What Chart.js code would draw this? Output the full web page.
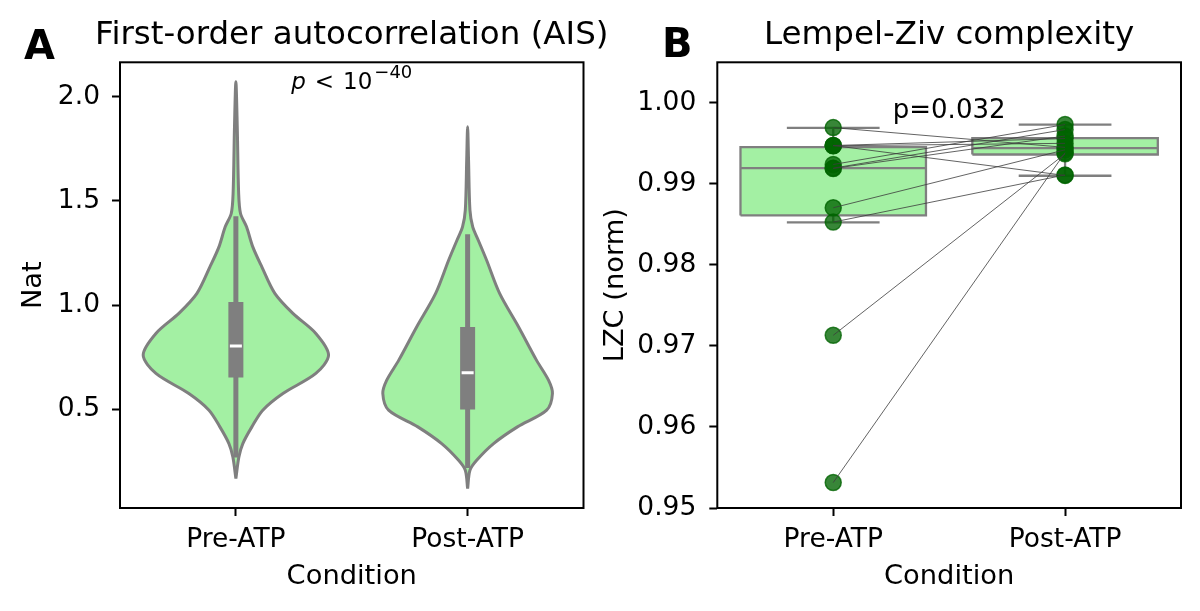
<!DOCTYPE html>
<html>
<head>
<meta charset="utf-8">
<script src="https://cdn.jsdelivr.net/npm/chart.js@4.4.1/dist/chart.umd.min.js"></script>
<style>
  html, body { margin: 0; padding: 0; background: #fff; }
  #wrap { position: relative; width: 1200px; height: 611px; overflow: hidden; }
  canvas { position: absolute; top: 0; }
  #aisChart { left: 0; }
  #lzcChart { left: 600px; }
</style>
</head>
<body>
<div id="wrap">
  <canvas id="aisChart" width="704" height="611"></canvas>
  <canvas id="lzcChart" width="600" height="611"></canvas>
</div>
<script>
// --- data ---
const categories = ["Pre-ATP", "Post-ATP"];

// A: violin outlines (Nat level, half width in category units)
const preLevels  = [0.169, 0.273, 0.337, 0.417, 0.497, 0.577, 0.673, 0.761, 0.865, 0.961, 1.057, 1.184, 1.280, 1.376, 1.440, 1.536, 1.856, 2.072];
const preHalf    = [0,     0.013, 0.030, 0.069, 0.116, 0.203, 0.345, 0.400, 0.345, 0.246, 0.168, 0.112, 0.073, 0.046, 0.020, 0.012, 0.006, 0];
const postLevels = [0.121, 0.209, 0.257, 0.337, 0.417, 0.497, 0.577, 0.641, 0.737, 0.896, 1.057, 1.216, 1.312, 1.376, 1.456, 1.696, 1.856];
const postHalf   = [0,     0.010, 0.039, 0.112, 0.215, 0.341, 0.366, 0.349, 0.297, 0.220, 0.138, 0.082, 0.046, 0.022, 0.010, 0.004, 0];
// inner box per condition
const aisWhiskLow  = [0.27, 0.22];
const aisQ1        = [0.654, 0.500];
const aisMedian    = [0.805, 0.676];
const aisQ3        = [1.016, 0.896];
const aisWhiskHigh = [1.427, 1.340];
const aisTicks = [0.5, 1.0, 1.5, 2.0];

// B: paired LZC values per subject
const lzcPre  = [0.99694, 0.99473, 0.99473, 0.99470, 0.99239, 0.99194, 0.99190, 0.98705, 0.98528, 0.97131, 0.95314];
const lzcPost = [0.99450, 0.99104, 0.99560, 0.99500, 0.99732, 0.99670, 0.99590, 0.99420, 0.99110, 0.99370, 0.99385];
const lzcWhiskLow  = [0.98524, 0.99100];
const lzcQ1        = [0.98610, 0.99362];
const lzcMedian    = [0.99194, 0.99440];
const lzcQ3        = [0.99453, 0.99564];
const lzcWhiskHigh = [0.99692, 0.99732];
const lzcTicks = [0.95, 0.96, 0.97, 0.98, 0.99, 1.00];

// --- styles ---
const FONT = "'DejaVu Sans', sans-serif";
const fillGreen = "#a3f0a3";
const edgeGrey = "#7f7f7f";
Chart.defaults.font.family = FONT;
Chart.defaults.color = "#000";
Chart.defaults.animation = false;

function violinOutline(c, levels, half) {
  const right = levels.map((y, i) => ({ x: c + half[i], y }));
  const left = levels.map((y, i) => ({ x: c - half[i], y })).reverse();
  return right.concat(left.slice(1));
}

function seg(x1, y1, x2, y2, color, width, order) {
  return { data: [{ x: x1, y: y1 }, { x: x2, y: y2 }], showLine: true, borderColor: color,
           borderWidth: width, pointRadius: 0, fill: false, order };
}

function catAxis(height) {
  return {
    type: "linear", min: -0.5, max: 1.5,
    afterBuildTicks: s => { s.ticks = categories.map((c, i) => ({ value: i })); },
    afterFit: s => { s.height = height; },
    ticks: { callback: v => categories[v], font: { size: 26.5 }, color: "#000", padding: 8.1, maxRotation: 0, autoSkip: false },
    grid: { drawOnChartArea: false, drawTicks: true, tickLength: 8, tickWidth: 2, tickColor: "#000" },
    border: { display: false },
    title: { display: true, text: "Condition", font: { size: 27.3 }, color: "#000", padding: { top: 0, bottom: 18 } }
  };
}

function valAxis(min, max, ticks, digits, width, label, tpad, lpad) {
  return {
    min, max,
    afterBuildTicks: s => { s.ticks = ticks.map(v => ({ value: v })); },
    afterFit: s => { s.width = width; },
    ticks: { callback: v => v.toFixed(digits), font: { size: 26.5 }, color: "#000", padding: lpad },
    grid: { drawOnChartArea: false, drawTicks: true, tickLength: 8, tickWidth: 2, tickColor: "#000" },
    border: { display: false },
    title: { display: true, text: label, font: { size: 27.3 }, color: "#000", padding: { top: tpad, bottom: 0 } }
  };
}

function titleOpts(text, full) {
  return { display: true, text, fullSize: full, font: { size: 32.5, weight: "normal" }, color: "#000",
           padding: { top: 16, bottom: 7.3 } };
}

function frame(chart) {
  const { ctx, chartArea: a } = chart;
  ctx.save();
  ctx.strokeStyle = "#000";
  ctx.lineWidth = 2;
  ctx.strokeRect(a.left, a.top, a.right - a.left, a.bottom - a.top);
  ctx.restore();
}

function letter(ctx, t, x, y) {
  ctx.save();
  ctx.fillStyle = "#000";
  ctx.font = "bold 40px " + FONT;
  ctx.textAlign = "left";
  ctx.textBaseline = "alphabetic";
  ctx.fillText(t, x, y);
  ctx.restore();
}

// --- panel A: violins ---
const aisSets = [];
categories.forEach((c, i) => {
  aisSets.push({ data: [{ x: i, y: aisMedian[i] }], pointStyle: "line", pointRadius: 6,
                 borderColor: "#fff", borderWidth: 3, showLine: false, order: 0 });
  aisSets.push(seg(i, aisQ1[i], i, aisQ3[i], edgeGrey, 15, 1));
  aisSets.push(seg(i, aisWhiskLow[i], i, aisWhiskHigh[i], edgeGrey, 5, 2));
});
aisSets.push({ data: violinOutline(0, preLevels, preHalf), showLine: true, fill: "shape",
               backgroundColor: fillGreen, borderColor: edgeGrey, borderWidth: 3, pointRadius: 0, tension: 0.3, order: 3 });
aisSets.push({ data: violinOutline(1, postLevels, postHalf), showLine: true, fill: "shape",
               backgroundColor: fillGreen, borderColor: edgeGrey, borderWidth: 3, pointRadius: 0, tension: 0.3, order: 3 });

new Chart(document.getElementById("aisChart"), {
  type: "scatter",
  data: { datasets: aisSets },
  options: {
    responsive: false,
    layout: { padding: { left: 0, right: 0.5, top: 0, bottom: 0 } },
    plugins: { legend: { display: false }, tooltip: { enabled: false }, title: titleOpts("First-order autocorrelation (AIS)", true) },
    scales: {
      x: catAxis(103),
      y: valAxis(0.028, 2.165, aisTicks, 1, 120, "Nat", 17.6, 12),
      // empty spacer on the right so the title centres over the plot
      y2: { position: "right", min: 0, max: 1, afterFit: s => { s.width = 120; },
            ticks: { display: false }, grid: { display: false }, border: { display: false } }
    }
  },
  plugins: [{
    id: "aisNotes",
    afterDraw(chart) {
      frame(chart);
      const { ctx, chartArea: a } = chart;
      letter(ctx, "A", 24, 59);
      // p < 10^-40, mathtext style
      const parts = [
        { t: "p", f: "italic 23px " + FONT, dy: 0, gap: 9 },
        { t: "<", f: "23px " + FONT, dy: 0, gap: 9 },
        { t: "10", f: "23px " + FONT, dy: 0, gap: 2 },
        { t: "\u221240", f: "18px " + FONT, dy: -11, gap: 0 }
      ];
      ctx.save();
      ctx.fillStyle = "#000";
      ctx.textBaseline = "alphabetic";
      let total = 0;
      parts.forEach(p => { ctx.font = p.f; p.w = ctx.measureText(p.t).width; total += p.w + p.gap; });
      let x = (a.left + a.right) / 2 - total / 2;
      parts.forEach(p => { ctx.font = p.f; ctx.fillText(p.t, x, 89 + p.dy); x += p.w + p.gap; });
      ctx.restore();
    }
  }]
});

// --- panel B: boxes + paired points ---
const lzcSets = [];
lzcPre.forEach((v, i) => lzcSets.push(seg(0, v, 1, lzcPost[i], "rgba(60,60,60,0.8)", 1, 0)));
lzcSets.push({
  data: lzcPre.map(v => ({ x: 0, y: v })).concat(lzcPost.map(v => ({ x: 1, y: v }))),
  showLine: false, pointRadius: 8, backgroundColor: "rgba(0,100,0,0.78)",
  borderColor: "rgba(0,100,0,0.78)", borderWidth: 1.5, order: 1
});
const half = 0.4;
categories.forEach((c, i) => {
  lzcSets.push(seg(i, lzcWhiskLow[i], i, lzcQ1[i], edgeGrey, 2.3, 2));
  lzcSets.push(seg(i, lzcQ3[i], i, lzcWhiskHigh[i], edgeGrey, 2.3, 2));
  lzcSets.push(seg(i - half / 2, lzcWhiskLow[i], i + half / 2, lzcWhiskLow[i], edgeGrey, 2.3, 2));
  lzcSets.push(seg(i - half / 2, lzcWhiskHigh[i], i + half / 2, lzcWhiskHigh[i], edgeGrey, 2.3, 2));
  lzcSets.push(seg(i - half, lzcMedian[i], i + half, lzcMedian[i], edgeGrey, 2.3, 2));
  lzcSets.push({
    data: [{ x: i - half, y: lzcQ1[i] }, { x: i + half, y: lzcQ1[i] }, { x: i + half, y: lzcQ3[i] },
           { x: i - half, y: lzcQ3[i] }, { x: i - half, y: lzcQ1[i] }],
    showLine: true, fill: "shape", backgroundColor: fillGreen, borderColor: edgeGrey,
    borderWidth: 2.3, pointRadius: 0, order: 3
  });
});

new Chart(document.getElementById("lzcChart"), {
  type: "scatter",
  data: { datasets: lzcSets },
  options: {
    responsive: false,
    layout: { padding: { left: 0, right: 19, top: 0, bottom: 0 } },
    plugins: { legend: { display: false }, tooltip: { enabled: false }, title: titleOpts("Lempel-Ziv complexity", false) },
    scales: {
      x: catAxis(103),
      y: valAxis(0.95, 1.005, lzcTicks, 2, 117.3, "LZC (norm)", 0, 13)
    }
  },
  plugins: [{
    id: "lzcNotes",
    afterDraw(chart) {
      frame(chart);
      const { ctx, chartArea: a } = chart;
      letter(ctx, "B", 62, 57);
      ctx.save();
      ctx.fillStyle = "#000";
      ctx.font = "26px " + FONT;
      ctx.textAlign = "center";
      ctx.textBaseline = "alphabetic";
      ctx.fillText("p=0.032", (a.left + a.right) / 2, 118);
      ctx.restore();
    }
  }]
});
</script>
</body>
</html>
